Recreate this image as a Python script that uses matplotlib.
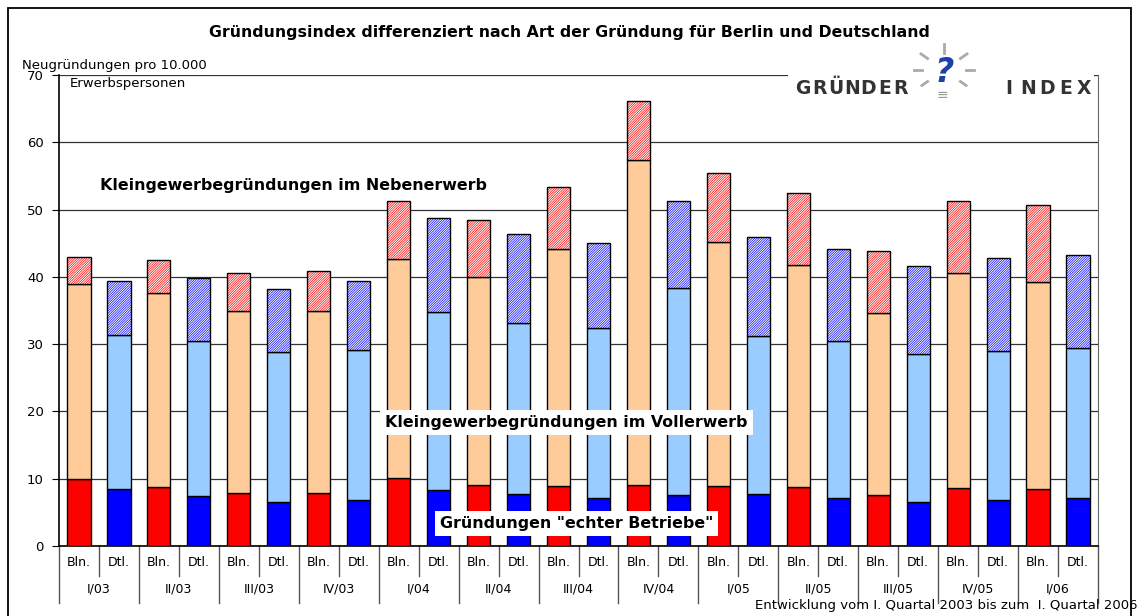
import numpy as np
import matplotlib.pyplot as plt
from matplotlib.patches import Rectangle
from matplotlib.lines import Line2D

quarters = ["I/03", "II/03", "III/03", "IV/03", "I/04", "II/04", "III/04",
            "IV/04", "I/05", "II/05", "III/05", "IV/05", "I/06"]
regions = ["Bln.", "Dtl."]

# Berlin: echte Betriebe / Vollerwerb / Nebenerwerb
bln_echte = [10.0, 8.8, 7.9, 7.9, 10.1, 9.1, 8.9, 9.1, 8.9, 8.8, 7.6, 8.6, 8.5]
bln_voll = [28.9, 28.8, 27.0, 27.1, 32.6, 30.9, 35.2, 48.3, 36.3, 33.0, 27.1, 31.9, 30.8]
bln_neben = [4.0, 4.9, 5.6, 5.8, 8.5, 8.4, 9.3, 8.8, 10.3, 10.7, 9.1, 10.7, 11.4]

# Deutschland
dtl_echte = [8.4, 7.5, 6.6, 6.8, 8.3, 7.7, 7.1, 7.6, 7.7, 7.2, 6.5, 6.8, 7.2]
dtl_voll = [23.0, 22.9, 22.2, 22.3, 26.5, 25.4, 25.3, 30.8, 23.5, 23.3, 22.0, 22.2, 22.3]
dtl_neben = [8.0, 9.4, 9.4, 10.3, 13.9, 13.2, 12.6, 12.9, 14.7, 13.7, 13.1, 13.8, 13.7]

plt.rcParams["font.family"] = ["DejaVu Sans"]
plt.rcParams["hatch.linewidth"] = 0.5

W, H = 1139, 616
fig = plt.figure(figsize=(W / 100, H / 100), dpi=100)
ax = fig.add_axes([59 / W, 1 - 546 / H, (1098 - 59) / W, (546 - 75) / H])

n = len(quarters)
x_bln = np.arange(n) * 2
x_dtl = np.arange(n) * 2 + 1
bw = 0.58


def stack(x, echte, voll, neben, c_echte, c_voll, c_hatch):
    echte = np.array(echte)
    voll = np.array(voll)
    neben = np.array(neben)
    ax.bar(x, echte, bw, color=c_echte, edgecolor="black", linewidth=1, zorder=3)
    ax.bar(x, voll, bw, bottom=echte, color=c_voll, edgecolor="black", linewidth=1, zorder=3)
    ax.bar(x, neben, bw, bottom=echte + voll, color="white", edgecolor=c_hatch,
           hatch="/" * 14, linewidth=0, zorder=3)
    ax.bar(x, neben, bw, bottom=echte + voll, fill=False, edgecolor="black", linewidth=1, zorder=4)


stack(x_bln, bln_echte, bln_voll, bln_neben, "#ff0000", "#ffcc99", "#ff0000")
stack(x_dtl, dtl_echte, dtl_voll, dtl_neben, "#0000ff", "#99ccff", "#0000ff")

ax.set_xlim(-0.5, 2 * n - 0.5)
ax.set_ylim(0, 70)
ax.set_yticks(range(0, 71, 10))
ax.tick_params(axis="y", direction="out", length=5, labelsize=9.5, pad=6)
ax.set_xticks([])
ax.yaxis.grid(True, color="#333333", linewidth=0.9)
ax.set_axisbelow(True)
ax.spines["top"].set_visible(False)
ax.spines["right"].set_color("#666666")
ax.spines["left"].set_linewidth(1.2)
ax.spines["bottom"].set_linewidth(1.2)

# two-level category axis
tr = ax.get_xaxis_transform()
for i in range(n):
    for j, lab in enumerate(regions):
        ax.text(2 * i + j, -0.034, lab, transform=tr, ha="center", va="center", fontsize=9)
    ax.text(2 * i + 0.5, -0.092, quarters[i], transform=tr, ha="center", va="center", fontsize=9)
    ax.plot([2 * i + 0.5] * 2, [0, -0.064], transform=tr, color="#555555", lw=1, clip_on=False)
for i in range(n + 1):
    ax.plot([2 * i - 0.5] * 2, [0, -0.12], transform=tr, color="#555555", lw=1, clip_on=False)

# series labels inside the plot
bold = dict(fontweight="bold", fontsize=11.4, color="black")
ax.text(0.53, 53.6, "Kleingewerbegründungen im Nebenerwerb", ha="left", va="center", zorder=6, **bold)
ax.text(12.2, 18.3, "Kleingewerbegründungen im Vollerwerb", ha="center", va="center", zorder=6,
        bbox=dict(facecolor="white", edgecolor="none", pad=3.5), **bold)
ax.text(12.45, 3.4, "Gründungen \"echter Betriebe\"", ha="center", va="center", zorder=6,
        bbox=dict(facecolor="white", edgecolor="none", pad=3.5), **bold)

# figure texts
fig.text(569 / W, 1 - 33 / H, "Gründungsindex differenziert nach Art der Gründung für Berlin und Deutschland",
         ha="center", va="center", fontsize=11.3, fontweight="bold")
fig.text(22 / W, 1 - 66 / H, "Neugründungen pro 10.000", ha="left", va="center", fontsize=9.5)
fig.text(70 / W, 1 - 83 / H, "Erwerbspersonen", ha="left", va="center", fontsize=9.5)
fig.text(0.999, 1 - 606 / H, "Entwicklung vom I. Quartal 2003 bis zum  I. Quartal 2006",
         ha="right", va="center", fontsize=9.5)

# logo (letter-spaced words)
fig.add_artist(Rectangle((788 / W, 1 - 104 / H), 306 / W, 62 / H, transform=fig.transFigure,
                         facecolor="white", edgecolor="none", zorder=5))
for word, x0, pitch in [("GRÜNDER", 803, 16.3), ("INDEX", 1009, 18.8)]:
    for k, ch in enumerate(word):
        fig.text((x0 + k * pitch) / W, 1 - 89 / H, ch, ha="center", va="center", fontsize=13.5,
                 fontweight="heavy", color="#333333", zorder=6)
fig.text(944 / W, 1 - 72 / H, "?", ha="center", va="center", fontsize=24, fontweight="bold",
         style="italic", color="#1c3fa8", zorder=7)
fig.text(942 / W, 1 - 95 / H, "≡", ha="center", va="center", fontsize=10, color="#999999", zorder=7)
cx, cy = 944, 70
for ang, r0, r1 in [(90, 17, 26), (145, 20, 28), (35, 20, 28), (180, 22, 30),
                    (0, 22, 30), (215, 20, 27), (325, 20, 27)]:
    a = np.deg2rad(ang)
    xs = [(cx + r0 * np.cos(a)) / W, (cx + r1 * np.cos(a)) / W]
    ys = [1 - (cy - r0 * np.sin(a)) / H, 1 - (cy - r1 * np.sin(a)) / H]
    fig.add_artist(Line2D(xs, ys, color="#aaaaaa", lw=2, zorder=7))

# outer frame
fig.add_artist(Rectangle((8 / W, -0.05), (1131 - 8) / W, 1 - 8 / H + 0.05,
                         transform=fig.transFigure, fill=False, edgecolor="black", lw=1.3, zorder=8))

fig.savefig("out.png", dpi=100)
